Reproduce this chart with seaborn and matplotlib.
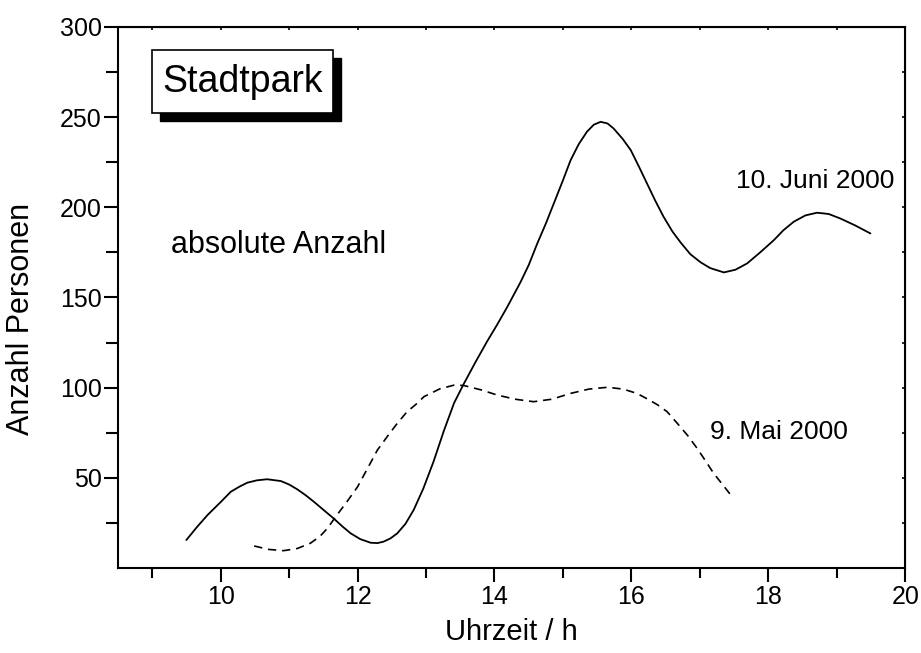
import matplotlib
matplotlib.use("Agg")
import matplotlib.pyplot as plt
from matplotlib.patches import Rectangle
from matplotlib.ticker import MultipleLocator
import pandas as pd
import seaborn as sns

# 10. Juni 2000 (solid line)
juni_uhrzeit = [9.5, 9.65, 9.81, 10.0, 10.15, 10.28, 10.39, 10.53, 10.68, 10.88,
                11.0, 11.12, 11.24, 11.36, 11.5, 11.65, 11.78, 11.9, 12.04, 12.19,
                12.29, 12.38, 12.48, 12.58, 12.7, 12.82, 12.96, 13.11, 13.26, 13.41,
                13.55, 13.72, 13.89, 14.04, 14.19, 14.38, 14.5, 14.62, 14.75, 14.87,
                15.0, 15.11, 15.23, 15.35, 15.45, 15.55, 15.65, 15.74, 15.87, 15.99,
                16.11, 16.23, 16.35, 16.47, 16.6, 16.72, 16.86, 17.01, 17.15, 17.35,
                17.52, 17.69, 17.88, 18.08, 18.22, 18.37, 18.54, 18.71, 18.88, 19.05,
                19.27, 19.49]
juni_personen = [15.5, 22.5, 29.4, 36.5, 42.3, 45.2, 47.3, 48.6, 49.2, 48.2,
                 46.3, 43.6, 40.4, 36.8, 32.3, 27.5, 23.0, 19.2, 16.0, 14.0,
                 13.8, 14.6, 16.4, 19.2, 24.5, 32.2, 44.0, 59.0, 76.0, 91.5,
                 102.0, 114.0, 125.5, 135.0, 145.0, 158.5, 168.0, 179.5, 191.0, 202.5,
                 215.0, 226.0, 235.0, 241.9, 245.8, 247.4, 246.5, 243.7, 238.0, 231.7,
                 222.5, 213.0, 203.5, 194.7, 186.5, 180.4, 174.0, 169.5, 166.3, 163.9,
                 165.4, 168.9, 175.0, 181.8, 187.3, 192.0, 195.5, 197.0, 196.3, 193.8,
                 189.9, 185.5]

# 9. Mai 2000 (dashed line)
mai_uhrzeit = [10.49, 10.7, 10.92, 11.12, 11.31, 11.45, 11.56, 11.7, 11.85, 12.0,
               12.15, 12.29, 12.44, 12.58, 12.72, 12.87, 12.97, 13.2, 13.41, 13.55,
               13.8, 14.04, 14.3, 14.57, 14.84, 15.11, 15.38, 15.65, 15.88, 16.08,
               16.23, 16.38, 16.52, 16.67, 16.82, 16.96, 17.08, 17.2, 17.33, 17.45]
mai_personen = [12.2, 10.3, 9.6, 10.8, 13.7, 17.5, 22.0, 29.4, 37.0, 45.0,
                55.5, 65.4, 73.2, 80.2, 86.5, 91.3, 95.0, 99.3, 101.4, 101.2,
                98.8, 95.9, 93.6, 92.2, 93.6, 96.8, 99.2, 100.2, 99.2, 96.8,
                93.8, 90.5, 86.7, 80.2, 73.5, 66.3, 59.5, 52.5, 46.3, 40.5]

juni = pd.DataFrame({'Uhrzeit': juni_uhrzeit, 'Personen': juni_personen})
mai = pd.DataFrame({'Uhrzeit': mai_uhrzeit, 'Personen': mai_personen})

sns.set_style("ticks")
plt.rcParams['font.family'] = ['Liberation Sans', 'DejaVu Sans']
plt.rcParams['text.color'] = 'black'
plt.rcParams['axes.labelcolor'] = 'black'

fig, ax = plt.subplots(figsize=(9.21, 6.53), dpi=100)
fig.subplots_adjust(left=0.128, right=0.983, top=0.9587, bottom=0.1302)

sns.lineplot(data=juni, x='Uhrzeit', y='Personen', ax=ax, color='black', lw=1.3)
sns.lineplot(data=mai, x='Uhrzeit', y='Personen', ax=ax, color='black', lw=1.2,
             linestyle=(0, (5, 3.5)))

ax.set_xlim(8.5, 20)
ax.set_ylim(0, 300)
ax.xaxis.set_major_locator(MultipleLocator(2))
ax.xaxis.set_minor_locator(MultipleLocator(1))
ax.set_yticks([50, 100, 150, 200, 250, 300])
ax.set_yticks([25, 75, 125, 175, 225, 275], minor=True)

for sp in ax.spines.values():
    sp.set_linewidth(1.5)
    sp.set_color('black')
ax.tick_params(which='major', direction='out', length=10, width=1.5, labelsize=18,
               colors='black')
ax.tick_params(which='minor', direction='out', length=7, width=1.5, colors='black')
ax.tick_params(axis='y', which='minor', length=9)
ax.tick_params(axis='y', which='major', pad=1.5)
ax.tick_params(axis='x', which='major', pad=2.5)

# small inward ticks on top and right
top = ax.secondary_xaxis('top')
top.xaxis.set_major_locator(MultipleLocator(1))
top.tick_params(direction='in', length=2.5, width=1.2, labeltop=False, colors='black')
right = ax.secondary_yaxis('right')
right.yaxis.set_major_locator(MultipleLocator(25))
right.tick_params(direction='in', length=2.5, width=1.2, labelright=False, colors='black')

ax.set_xlabel('Uhrzeit / h', fontsize=21)
ax.set_ylabel('Anzahl Personen', fontsize=22)
ax.xaxis.set_label_coords(0.5, -0.092)
ax.yaxis.set_label_coords(-0.104, 0.46)

ax.text(9.28, 179, 'absolute Anzahl', fontsize=22, va='center', ha='left')
ax.text(17.53, 214.5, '10. Juni 2000', fontsize=19, va='center', ha='left')
ax.text(17.14, 75.4, '9. Mai 2000', fontsize=19, va='center', ha='left')

# "Stadtpark" box with drop shadow
ax.add_patch(Rectangle((0.053, 0.826), 0.23, 0.116, transform=ax.transAxes,
                       facecolor='black', edgecolor='black', zorder=4))
ax.add_patch(Rectangle((0.043, 0.841), 0.23, 0.116, transform=ax.transAxes,
                       facecolor='white', edgecolor='black', lw=1.2, zorder=5))
ax.text(0.158, 0.899, 'Stadtpark', transform=ax.transAxes, fontsize=27,
        ha='center', va='center', zorder=6)

fig.savefig('out.png', dpi=100)
